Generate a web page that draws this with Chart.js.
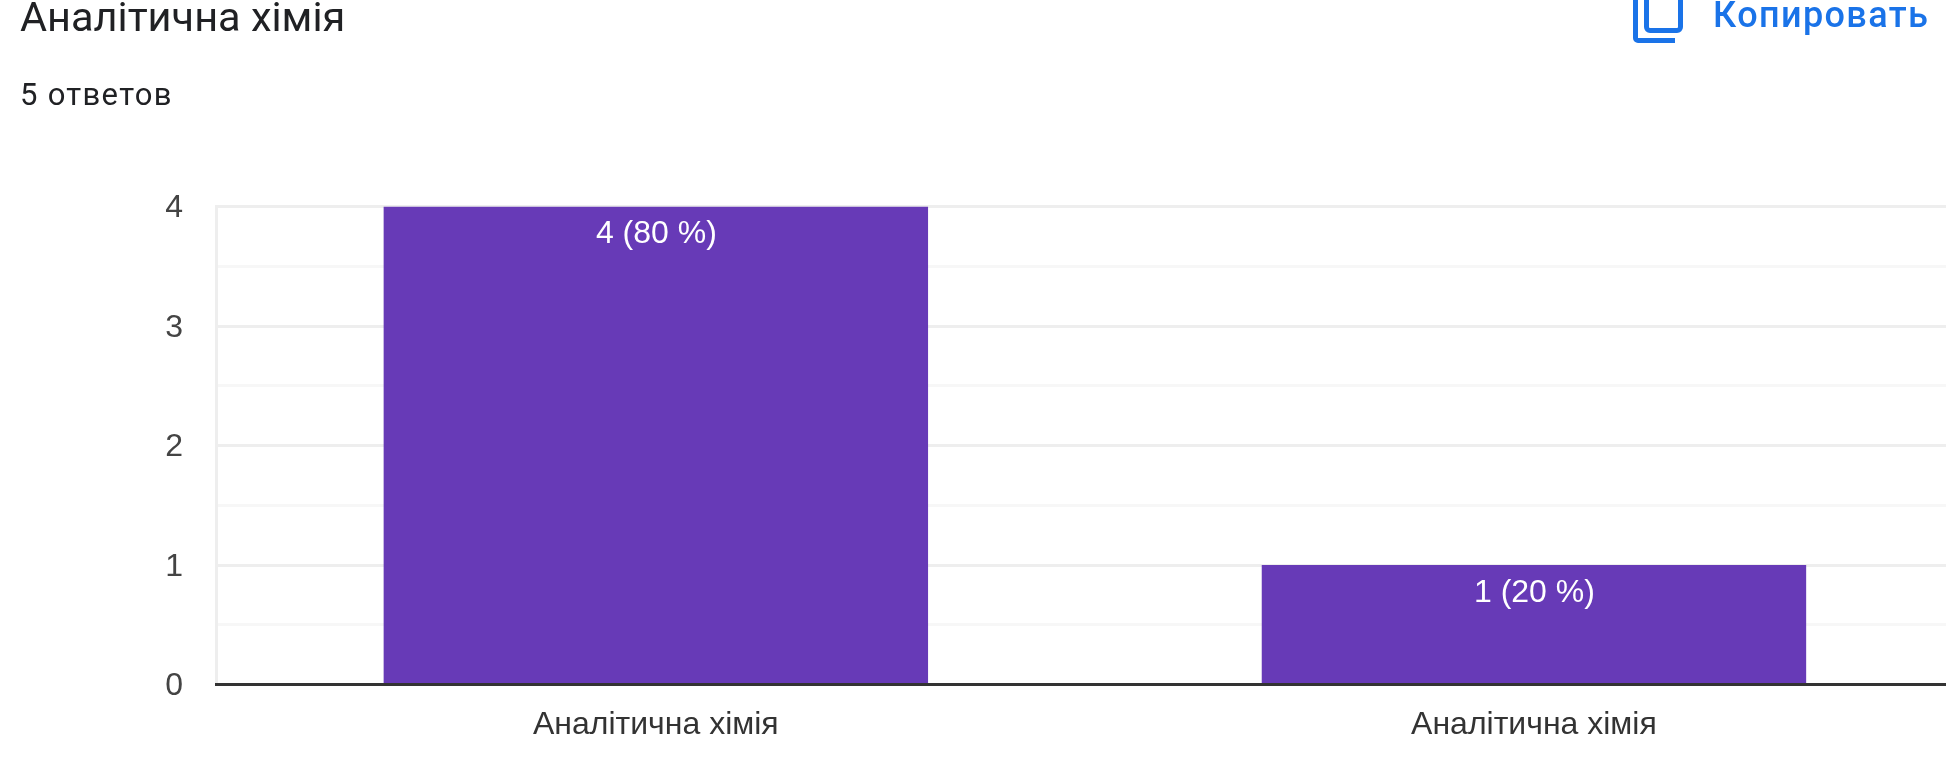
<!DOCTYPE html>
<html><head><meta charset="utf-8">
<script src="https://cdn.jsdelivr.net/npm/chart.js@4"></script>
<style>
html,body{margin:0;padding:0;width:1946px;height:780px;overflow:hidden;background:#fff}
canvas{position:absolute;left:0;top:0}
.t{position:absolute;white-space:nowrap;font-family:Roboto,sans-serif;line-height:1}
#title{left:20px;top:-4px;font-size:41.5px;color:#202124}
#sub{left:20px;top:79px;font-size:31px;color:#202124;letter-spacing:1.3px}
#copy{left:1713px;top:-3px;font-size:36px;color:#1a73e8;font-weight:500;letter-spacing:1.4px}
svg{position:absolute;left:1625px;top:0}
</style></head><body>
<canvas id="c" width="1973" height="780"></canvas>
<div class="t" id="title">Аналітична хімія</div>
<div class="t" id="sub">5 ответов</div>
<svg width="66" height="50" viewBox="0 0 66 50"><g fill="none" stroke="#1a73e8" stroke-width="5"><path d="M10.5 -5V38a2.5 2.5 0 0 0 2.5 2.5H50"/><path d="M21.5 -5V27a3.5 3.5 0 0 0 3.5 3.5H52a3.5 3.5 0 0 0 3.5 -3.5V-5"/></g></svg>
<div class="t" id="copy">Копировать</div>
<script>
const categories = ['Аналітична хімія', 'Аналітична хімія'];
const values = [4, 1];
const valueLabels = ['4 (80 %)', '1 (20 %)'];
const barColor = '#673ab7';

const labelPlugin = {
  id: 'barLabels',
  afterDatasetsDraw(chart) {
    const ctx = chart.ctx;
    ctx.save();
    ctx.font = '32px "Liberation Sans"';
    ctx.fillStyle = '#ffffff';
    ctx.textAlign = 'center';
    ctx.textBaseline = 'middle';
    chart.getDatasetMeta(0).data.forEach((bar, i) => {
      ctx.fillText(valueLabels[i], bar.x + 0.5, bar.y + 28);
    });
    ctx.restore();
  }
};

new Chart(document.getElementById('c'), {
  type: 'bar',
  data: { labels: categories, datasets: [{ data: values, backgroundColor: barColor, categoryPercentage: 1, barPercentage: 0.62 }] },
  options: {
    responsive: false,
    animation: false,
    layout: { padding: { top: 206.5, left: 0, right: 0, bottom: 0 } },
    plugins: { legend: { display: false }, title: { display: false }, tooltip: { enabled: false } },
    scales: {
      x: {
        afterFit(s) { s.height = 95.5; },
        grid: { display: false, drawTicks: false },
        border: { display: true, color: '#333333', width: 3, z: 1 },
        ticks: { color: '#333333', font: { family: '"Liberation Sans"', size: 32 }, padding: 21, maxRotation: 0 }
      },
      y: {
        min: 0, max: 4,
        afterFit(s) { s.width = 216.8; },
        grid: {
          drawTicks: false,
          lineWidth: 3,
          color: c => Number.isInteger(c.tick.value) ? '#eeeeee' : '#f7f7f7'
        },
        border: { display: true, color: '#eeeeee', width: 3 },
        ticks: {
          stepSize: 0.5,
          padding: 33.8,
          labelOffset: 2,
          autoSkip: false,
          color: '#444444',
          font: { family: '"Liberation Sans"', size: 32 },
          callback: v => Number.isInteger(v) ? String(v) : ''
        }
      }
    }
  },
  plugins: [labelPlugin]
});
</script>
</body></html>
